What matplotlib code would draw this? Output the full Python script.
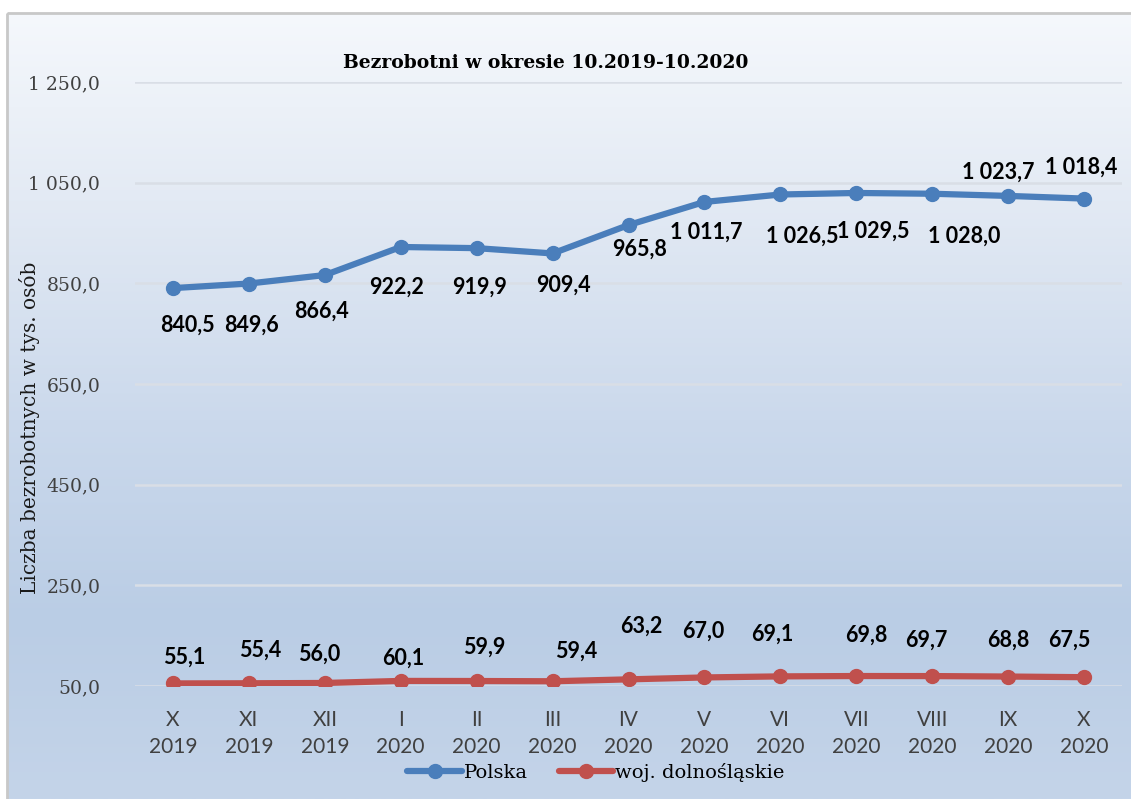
import numpy as np
import matplotlib
matplotlib.use("Agg")
import matplotlib.pyplot as plt
from matplotlib.patches import Rectangle
from matplotlib.ticker import FuncFormatter

# data
months     = ["X", "XI", "XII", "I", "II", "III", "IV", "V", "VI", "VII", "VIII", "IX", "X"]
years      = ["2019", "2019", "2019", "2020", "2020", "2020", "2020", "2020", "2020", "2020", "2020", "2020", "2020"]
polska     = [840.5, 849.6, 866.4, 922.2, 919.9, 909.4, 965.8, 1011.7, 1026.5, 1029.5, 1028.0, 1023.7, 1018.4]
dolnoslask = [55.1, 55.4, 56.0, 60.1, 59.9, 59.4, 63.2, 67.0, 69.1, 69.8, 69.7, 68.8, 67.5]
y_ticks    = [50, 250, 450, 650, 850, 1050, 1250]

# label offsets in pixels (dx, dy up), as placed in the reference
polska_off = [(14, -37), (3, -42), (-3, -36), (-4, -40), (3, -39), (11, -32), (11, -24),
              (2, -30), (22, -42), (17, -38), (32, -42), (-10, 24), (-3, 31)]
dolno_off  = [(11, 26), (11, 33), (-6, 29), (3, 23), (8, 34), (24, 30), (13, 53),
              (-1, 46), (-8, 42), (10, 41), (-6, 36), (0, 36), (-15, 37)]

BLUE  = "#4a7ebb"
RED   = "#c0504d"
W, H  = 1131, 799
SERIF = "DejaVu Serif"
SANS  = "Lato"


def fmt_pl(v, _pos=None):
    return f"{v:,.1f}".replace(",", " ").replace(".", ",")


fig = plt.figure(figsize=(W / 100, H / 100), dpi=100)

# background frame with the vertical gradient
bg = fig.add_axes([0, 0, 1, 1], zorder=-5)
bg.set_xlim(0, W)
bg.set_ylim(H, 0)
bg.axis("off")
stops_y = [13, 200, 420, 620, 799]
stops_c = np.array([[245, 248, 252], [227, 234, 244], [203, 217, 236],
                    [186, 205, 229], [196, 212, 233]]) / 255.0
ys   = np.linspace(13, 799, 400)
grad = np.stack([np.interp(ys, stops_y, stops_c[:, k]) for k in range(3)], axis=-1)
bg.imshow(grad[:, None, :], extent=(7, W + 5, 799, 13), aspect="auto", interpolation="bilinear")
bg.add_patch(Rectangle((7, 13), W, H, fill=False, edgecolor="#c8c8c8", linewidth=2))

ax = fig.add_axes([135 / W, 113 / H, 987 / W, 604 / H])
ax.set_facecolor("none")
x = np.arange(len(months))

ax.plot(x, polska, color=BLUE, linewidth=4.5, marker="o", markersize=10,
        solid_capstyle="round", label="Polska", zorder=3)
ax.plot(x, dolnoslask, color=RED, linewidth=4.5, marker="o", markersize=10,
        solid_capstyle="round", label="woj. dolnośląskie", zorder=3)

for xi, v, off in zip(x, polska, polska_off):
    ax.annotate(fmt_pl(v), (xi, v), xytext=off, textcoords="offset pixels",
                ha="center", va="center", fontsize=15.5, fontweight="bold",
                family=SANS, color="black", zorder=4)
for xi, v, off in zip(x, dolnoslask, dolno_off):
    ax.annotate(fmt_pl(v), (xi, v), xytext=off, textcoords="offset pixels",
                ha="center", va="center", fontsize=15.5, fontweight="bold",
                family=SANS, color="black", zorder=4)

ax.set_xlim(-0.5, len(months) - 0.5)
ax.set_ylim(50, 1250)
ax.set_yticks(y_ticks)
ax.yaxis.set_major_formatter(FuncFormatter(fmt_pl))
ax.set_xticks(x)
ax.set_xticklabels([f"{m}\n{yr}" for m, yr in zip(months, years)],
                   family=SANS, fontsize=15, color="#404040", linespacing=1.45)
for lbl in ax.get_yticklabels():
    lbl.set_family(SERIF)
    lbl.set_fontsize(13.5)
    lbl.set_color("#404040")
ax.tick_params(axis="x", length=0, pad=17)
ax.tick_params(axis="y", length=0, pad=25)
ax.grid(axis="y", color="#d9dee6", linewidth=1.8, zorder=0)
ax.set_axisbelow(True)
for spine in ax.spines.values():
    spine.set_visible(False)

fig.text(30 / W, 1 - 428 / H, "Liczba bezrobotnych w tys. osób", rotation=90,
         ha="center", va="center", family=SERIF, fontsize=14.5, color="#1a1a1a")
fig.text(546 / W, 1 - 63 / H, "Bezrobotni w okresie 10.2019-10.2020",
         ha="center", va="center", family=SERIF, fontsize=13.5, fontweight="bold", color="black")

fig.legend(loc="center", bbox_to_anchor=(596 / W, 1 - 772 / H), ncol=2, frameon=False,
           prop={"family": SERIF, "size": 14}, handlelength=2.8, handletextpad=0.1,
           columnspacing=1.6, markerscale=1.0)

fig.savefig("out.png", dpi=100)
